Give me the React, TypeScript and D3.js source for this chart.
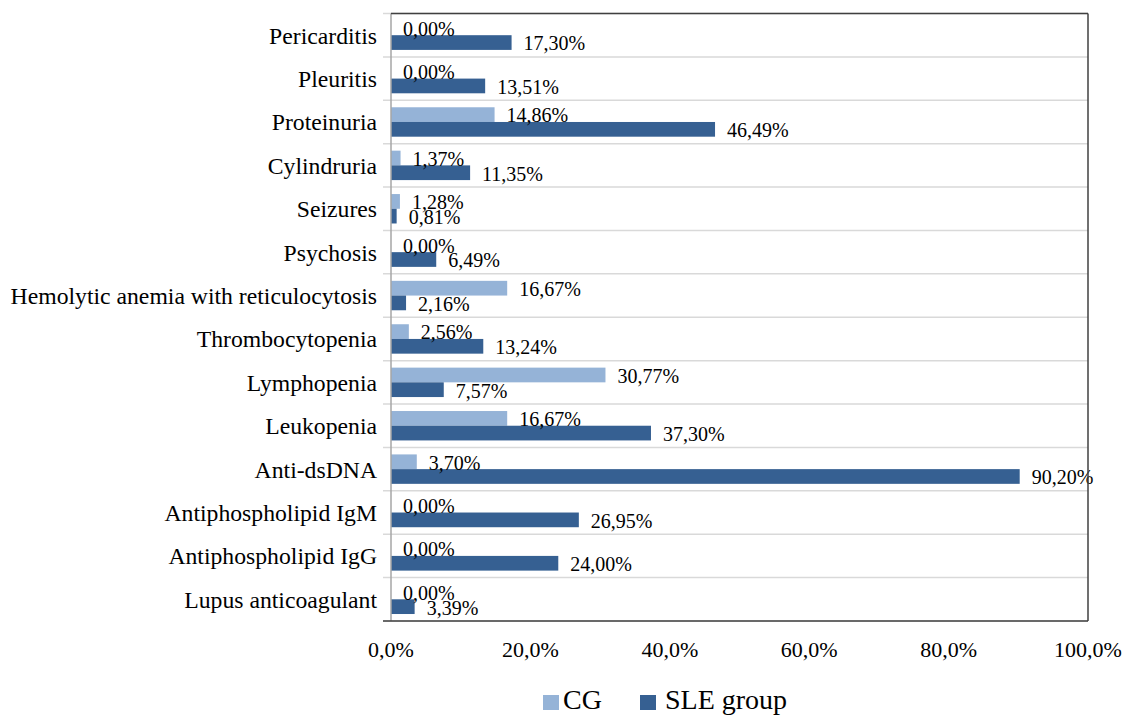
import React from "react";
import * as d3 from "d3";

const categories = [
  "Pericarditis",
  "Pleuritis",
  "Proteinuria",
  "Cylindruria",
  "Seizures",
  "Psychosis",
  "Hemolytic anemia with reticulocytosis",
  "Thrombocytopenia",
  "Lymphopenia",
  "Leukopenia",
  "Anti-dsDNA",
  "Antiphospholipid IgM",
  "Antiphospholipid IgG",
  "Lupus anticoagulant",
];
const seriesNames = ["CG", "SLE group"];
const cgValues = [0, 0, 14.86, 1.37, 1.28, 0, 16.67, 2.56, 30.77, 16.67, 3.7, 0, 0, 0];
const sleValues = [17.3, 13.51, 46.49, 11.35, 0.81, 6.49, 2.16, 13.24, 7.57, 37.3, 90.2, 26.95, 24.0, 3.39];
const xTicks = [0, 20, 40, 60, 80, 100];
const colors = ["#95b3d7", "#366092"];

const W = 1126;
const H = 715;
const left = 391;
const right = 1088;
const top = 13.5;
const bottom = 621;
const FONT = "'Liberation Serif', 'Times New Roman', serif";

export default function App() {
  const x = d3.scaleLinear().domain([0, 100]).range([left, right]);
  const y = d3.scaleBand<string>().domain(categories).range([top, bottom]).paddingInner(0).paddingOuter(0);
  const bw = y.bandwidth();
  const sub = d3.scaleBand<string>().domain(seriesNames).range([0, bw]).paddingInner(0).paddingOuter(0.475);
  const data = [cgValues, sleValues];
  const fmt = (v: number) => v.toFixed(2).replace(".", ",") + "%";
  const fmtTick = (v: number) => v.toFixed(1).replace(".", ",") + "%";
  const boundaries = categories.map((c) => y(c) as number).concat([bottom]);

  return (
    <div style={{ position: "absolute", left: 0, top: 0 }}>
      <svg width={W} height={H} style={{ display: "block", background: "#fff" }} fontFamily={FONT}>
        {boundaries.map((b, i) => (
          <line key={"g" + i} x1={left - 8} x2={right} y1={b} y2={b} stroke="#d9d9d9" strokeWidth={1.5} />
        ))}
        {seriesNames.map((s, si) =>
          categories.map((c, ci) => {
            const v = data[si][ci];
            const by = (y(c) as number) + (sub(s) as number);
            return (
              <rect key={s + c} x={x(0)} y={by} width={x(v) - x(0)} height={sub.bandwidth()} fill={colors[si]} />
            );
          })
        )}
        {seriesNames.map((s, si) =>
          categories.map((c, ci) => {
            const v = data[si][ci];
            const by = (y(c) as number) + (sub(s) as number) + sub.bandwidth();
            return (
              <text key={"l" + s + c} x={x(v) + 12} y={by + 0.5} fontSize={20} fill="#000">
                {fmt(v)}
              </text>
            );
          })
        )}
        <line x1={left} x2={left} y1={top} y2={bottom} stroke="#a6a6a6" strokeWidth={1.5} />
        <line x1={left - 8} x2={right} y1={bottom} y2={bottom} stroke="#404040" strokeWidth={1.5} />
        <line x1={left} x2={right} y1={top} y2={top} stroke="#404040" strokeWidth={1.5} />
        <line x1={right} x2={right} y1={top} y2={bottom} stroke="#404040" strokeWidth={1.5} />
        {categories.map((c) => (
          <text key={"c" + c} x={377} y={(y(c) as number) + bw / 2 + 8.5} textAnchor="end" fontSize={23.7} fill="#000">
            {c}
          </text>
        ))}
        {xTicks.map((t) => (
          <text key={"t" + t} x={x(t)} y={657} textAnchor="middle" fontSize={22} fill="#000">
            {fmtTick(t)}
          </text>
        ))}
        <rect x={543} y={695} width={16} height={15} fill={colors[0]} />
        <text x={563} y={709} fontSize={28} fill="#000">{seriesNames[0]}</text>
        <rect x={640} y={695} width={16} height={15} fill={colors[1]} />
        <text x={665} y={709} fontSize={28} fill="#000">{seriesNames[1]}</text>
      </svg>
    </div>
  );
}
